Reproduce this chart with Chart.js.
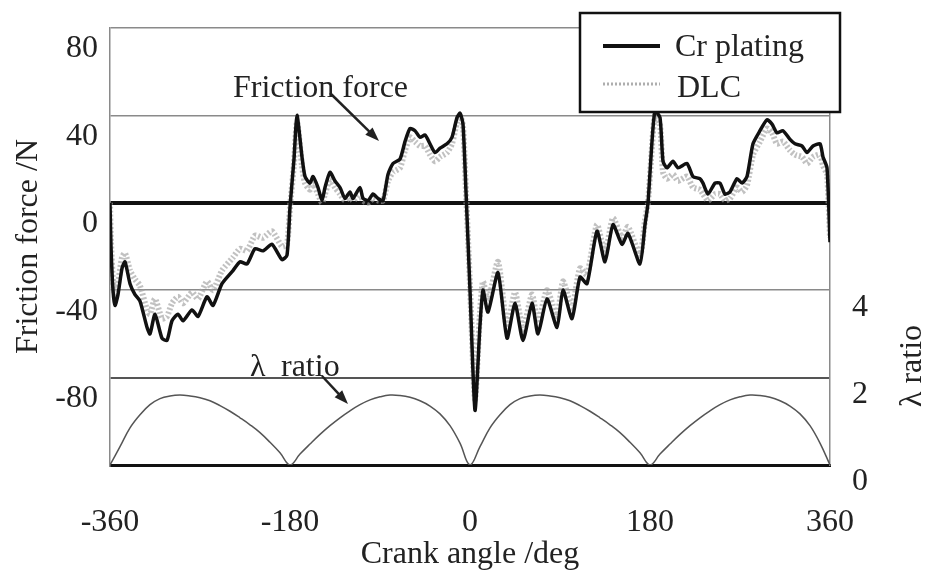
<!DOCTYPE html>
<html>
<head>
<meta charset="utf-8">
<script src="https://cdn.jsdelivr.net/npm/chart.js@4.4.0/dist/chart.umd.min.js"></script>
<style>
  body { margin: 0; background: #fff; }
  canvas { display: block; }
</style>
</head>
<body>
<canvas id="myChart" width="932" height="579"></canvas>
<script>
// crank angle positions (deg) where the friction traces were read
const angles = [
    -360, -359, -357, -355, -352, -348, -345, -340, -335, -330,
    -323, -320, -315, -308, -303, -298, -292, -287, -278, -272,
    -263, -257, -248, -237, -230, -223, -215, -207, -198, -188,
    -183, -180, -176, -173, -168, -165, -160, -157, -152, -148,
    -145, -140, -135, -130, -125, -120, -117, -110, -107, -102,
    -97, -92, -87, -82, -77, -70, -65, -60, -55, -50,
    -45, -40, -35, -30, -23, -18, -13, -10, -7, -4,
    0, 5, 10, 13, 18, 28, 37, 45, 53, 62,
    68, 77, 87, 93, 102, 110, 117, 127, 135, 143,
    152, 158, 170, 175, 178, 182, 185, 190, 193, 197,
    203, 208, 217, 223, 230, 233, 238, 245, 250, 255,
    260, 267, 272, 277, 283, 290, 297, 302, 307, 313,
    320, 325, 332, 337, 343, 350, 353, 357, 360
];

const crPlating = [
    0, -20, -40, -47, -42, -30, -27, -37, -42, -45,
    -57, -60, -51, -62, -63, -54, -51, -54, -49, -52,
    -43, -47, -37, -31, -27, -28, -21, -22, -19, -26,
    -24, -2, 20, 40, 21, 12, 9, 12, 7, 1,
    7, 14, 10, 7, 2, 5, 2, 7, 2, 1,
    4, 2, 1, 13, 18, 20, 28, 34, 33, 30,
    31, 27, 23, 25, 27, 30, 39, 41, 36, 5,
    -40, -95, -56, -40, -50, -32, -62, -46, -63, -46,
    -60, -44, -57, -40, -53, -34, -37, -13, -27, -10,
    -19, -14, -28, -10, 0, 28, 42, 39, 19, 16,
    19, 16, 18, 12, 11, 9, 4, 9, 9, 4,
    5, 11, 9, 12, 27, 33, 38, 36, 32, 33,
    29, 27, 26, 23, 26, 27, 21, 16, -18
];

const dlc = [
    0, -18, -36, -42, -37, -25, -23, -31, -35, -38,
    -49, -51, -44, -53, -52, -46, -43, -46, -41, -44,
    -36, -40, -31, -25, -21, -22, -15, -16, -13, -20,
    -19, -2, 18, 37, 17, 9, 6, 9, 4, 0,
    4, 11, 7, 4, 1, 3, 1, 4, 1, 0,
    2, 1, 1, 10, 14, 16, 24, 30, 28, 26,
    26, 22, 19, 21, 23, 27, 37, 40, 35, 5,
    -38, -90, -50, -36, -45, -27, -57, -41, -58, -42,
    -55, -40, -52, -36, -48, -30, -33, -10, -23, -7,
    -16, -11, -24, -8, 0, 26, 40, 36, 14, 11,
    13, 10, 12, 7, 6, 4, 1, 4, 4, 1,
    2, 7, 5, 8, 22, 28, 34, 32, 27, 28,
    24, 22, 21, 18, 21, 22, 17, 13, -16
];

// lambda ratio, read every 10 deg
const lambdaAngles = [
    -360, -350, -340, -330, -320, -310, -300, -290, -280, -270,
    -260, -250, -240, -230, -220, -210, -200, -190, -180, -170,
    -160, -150, -140, -130, -120, -110, -100, -90, -80, -70,
    -60, -50, -40, -30, -20, -10, 0, 10, 20, 30,
    40, 50, 60, 70, 80, 90, 100, 110, 120, 130,
    140, 150, 160, 170, 180, 190, 200, 210, 220, 230,
    240, 250, 260, 270, 280, 290, 300, 310, 320, 330,
    340, 350, 360
];

const lambdaRatio = [
    0, 0.42, 0.85, 1.15, 1.38, 1.52, 1.58, 1.60, 1.58, 1.54,
    1.47, 1.36, 1.23, 1.08, 0.92, 0.74, 0.52, 0.28, 0, 0.25,
    0.48, 0.70, 0.90, 1.08, 1.24, 1.38, 1.49, 1.56, 1.60, 1.59,
    1.55, 1.47, 1.35, 1.17, 0.90, 0.50, 0, 0.42, 0.85, 1.15,
    1.38, 1.52, 1.58, 1.60, 1.58, 1.54, 1.47, 1.36, 1.23, 1.08,
    0.92, 0.74, 0.52, 0.28, 0, 0.25, 0.48, 0.70, 0.90, 1.08,
    1.24, 1.38, 1.49, 1.56, 1.60, 1.59, 1.55, 1.47, 1.35, 1.17,
    0.90, 0.50, 0
];

const frictionTicks = [80, 40, 0, -40, -80];
const lambdaTicks = [0, 2, 4];

const serif = '"Liberation Serif", "DejaVu Serif", serif';

function arrow(ctx, x1, y1, x2, y2) {
    const a = Math.atan2(y2 - y1, x2 - x1);
    const len = 15;
    ctx.beginPath();
    ctx.moveTo(x1, y1);
    ctx.lineTo(x2 - Math.cos(a) * len * 0.8, y2 - Math.sin(a) * len * 0.8);
    ctx.stroke();
    ctx.beginPath();
    ctx.moveTo(x2, y2);
    ctx.lineTo(x2 - len * Math.cos(a - 0.35), y2 - len * Math.sin(a - 0.35));
    ctx.lineTo(x2 - len * Math.cos(a + 0.35), y2 - len * Math.sin(a + 0.35));
    ctx.closePath();
    ctx.fill();
}

// legend box, annotations and the right axis title
const extras = {
    id: 'extras',
    afterDraw(chart) {
        const ctx = chart.ctx;
        const ds = chart.data.datasets;
        ctx.save();
        ctx.fillStyle = '#222';
        ctx.strokeStyle = '#222';
        ctx.font = '32px ' + serif;
        ctx.textBaseline = 'alphabetic';
        ctx.textAlign = 'left';

        // annotations
        ctx.fillText('Friction force', 233, 97);
        ctx.fillText('\u03bb', 250, 376);
        ctx.fillText('ratio', 281, 376);
        ctx.lineWidth = 2.5;
        arrow(ctx, 330, 93, 379, 141);
        arrow(ctx, 322, 376, 348, 404);

        // right axis title
        ctx.save();
        ctx.translate(913, 366);
        ctx.rotate(-Math.PI / 2);
        ctx.textAlign = 'center';
        ctx.textBaseline = 'middle';
        ctx.fillText('\u03bb ratio', 0, 0);
        ctx.restore();

        // legend
        ctx.fillStyle = '#fff';
        ctx.fillRect(580, 13, 260, 99);
        ctx.lineWidth = 2.5;
        ctx.strokeStyle = '#111';
        ctx.strokeRect(580, 13, 260, 99);

        ctx.beginPath();
        ctx.lineWidth = 4;
        ctx.moveTo(603, 46);
        ctx.lineTo(660, 46);
        ctx.stroke();

        ctx.beginPath();
        ctx.lineWidth = 3;
        ctx.strokeStyle = 'rgba(140,140,140,0.7)';
        ctx.setLineDash([2, 2]);
        ctx.moveTo(603, 84);
        ctx.lineTo(660, 84);
        ctx.stroke();
        ctx.setLineDash([]);

        ctx.fillStyle = '#222';
        ctx.font = '32px ' + serif;
        ctx.fillText(ds[0].label, 675, 56);
        ctx.fillText(ds[1].label, 677, 97);
        ctx.restore();
    }
};

function gridColor(c) {
    const v = c.tick && c.tick.value;
    if (v === 0 || v === -120) return '#111';
    if (v === -80) return '#555';
    return '#8a8a8a';
}

function gridWidth(c) {
    const v = c.tick && c.tick.value;
    if (v === 0) return 4;
    if (v === -120) return 3;
    if (v === -80) return 2;
    return 1.5;
}

function noPad(s) {
    s.paddingTop = 0;
    s.paddingBottom = 0;
    s.paddingLeft = 0;
    s.paddingRight = 0;
}

new Chart(document.getElementById('myChart'), {
    type: 'line',
    data: {
        datasets: [{
            label: 'Cr plating',
            data: angles.map((a, i) => ({ x: a, y: crPlating[i] })),
            borderColor: '#111',
            borderWidth: 3.5,
            pointRadius: 0,
            tension: 0.2,
            yAxisID: 'y'
        }, {
            label: 'DLC',
            data: angles.map((a, i) => ({ x: a, y: dlc[i] })),
            borderColor: 'rgba(160,160,160,0.65)',
            borderWidth: 6,
            borderDash: [2, 2],
            pointRadius: 0,
            tension: 0.2,
            yAxisID: 'y'
        }, {
            label: '\u03bb ratio',
            data: lambdaAngles.map((a, i) => ({ x: a, y: lambdaRatio[i] })),
            borderColor: '#555',
            borderWidth: 1.5,
            pointRadius: 0,
            tension: 0.4,
            yAxisID: 'y2'
        }]
    },
    options: {
        responsive: false,
        animation: false,
        layout: { padding: { top: 28 } },
        plugins: {
            legend: { display: false },
            tooltip: { enabled: false }
        },
        scales: {
            x: {
                type: 'linear',
                min: -360,
                max: 360,
                afterFit: s => { s.height = 114; noPad(s); },
                ticks: {
                    stepSize: 180,
                    padding: 38,
                    color: '#222',
                    font: { family: serif, size: 32 }
                },
                grid: { drawOnChartArea: false, drawTicks: false },
                border: { color: '#111', width: 3 },
                title: {
                    display: true,
                    text: 'Crank angle /deg',
                    color: '#222',
                    font: { family: serif, size: 32 },
                    padding: { top: 0, bottom: 5 }
                }
            },
            y: {
                position: 'left',
                min: -120,
                max: 80,
                afterFit: s => { s.width = 110; noPad(s); },
                afterBuildTicks: s => { s.ticks = [-120].concat(frictionTicks).map(v => ({ value: v })); },
                ticks: {
                    padding: 12,
                    labelOffset: 21,
                    color: '#222',
                    font: { family: serif, size: 32 },
                    callback: v => frictionTicks.includes(v) ? v : ''
                },
                grid: { color: gridColor, lineWidth: gridWidth, drawTicks: false },
                border: { color: '#8a8a8a', width: 1.5 },
                title: {
                    display: true,
                    text: 'Friction force /N',
                    color: '#222',
                    font: { family: serif, size: 32 },
                    padding: { top: 9, bottom: 0 }
                }
            },
            y2: {
                position: 'right',
                min: 0,
                max: 10,
                afterFit: s => { s.width = 102; noPad(s); },
                ticks: {
                    stepSize: 2,
                    padding: 22,
                    labelOffset: 17,
                    color: '#222',
                    font: { family: serif, size: 32 },
                    callback: v => lambdaTicks.includes(v) ? v : ''
                },
                grid: { drawOnChartArea: false, drawTicks: false },
                border: { color: '#8a8a8a', width: 1.5 }
            }
        }
    },
    plugins: [extras]
});
</script>
</body>
</html>
